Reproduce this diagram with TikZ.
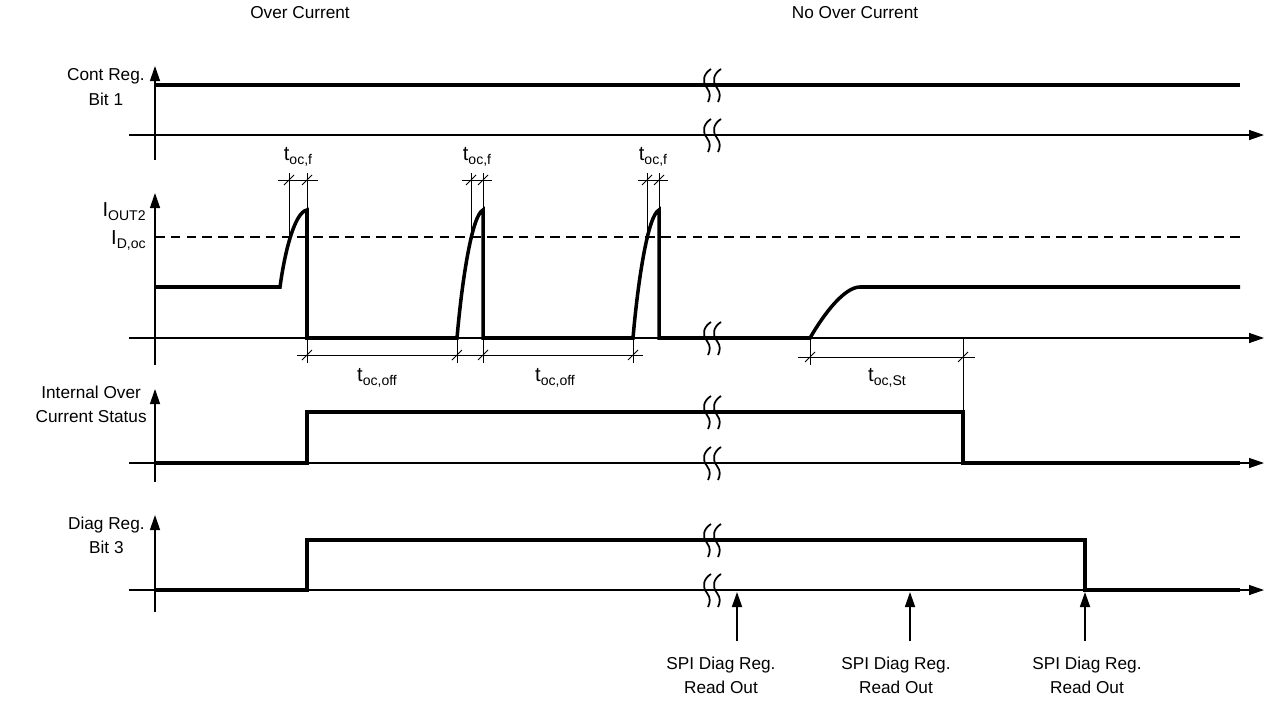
\documentclass[tikz,border=0pt]{standalone}
\usepackage{fontspec}
\setmainfont{Liberation Sans}
\usetikzlibrary{arrows.meta}
\newcommand{\sbl}[2]{{\fontsize{11.5}{13}\selectfont #1}\raisebox{-0.45ex}{\fontsize{8}{9}\selectfont #2}}
\begin{document}
\begin{tikzpicture}[x=0.02cm,y=-0.02cm,
  sig/.style={line width=2pt, line join=miter},
  axarr/.style={line width=0.75pt,-{Triangle[length=0.3cm,width=0.2cm]}},
  thinl/.style={line width=0.5pt},
  dashl/.style={line width=1.3pt, dash pattern=on 5.5pt off 3.5pt},
  roarr/.style={line width=1pt,-{Triangle[length=0.3cm,width=0.2cm]}},
  lbl/.style={font=\fontsize{9.8}{13.8}\selectfont, inner sep=0pt, align=center},
  brkline/.style={line width=1pt},
  brk/.pic={
    \draw[brkline] (-1,-16) .. controls (-9,-11) and (-10,-3) .. (-5,3) .. controls (-1,8) and (-2,13) .. (-4,17);
    \draw[brkline] (9,-16) .. controls (1,-11) and (0,-3) .. (5,3) .. controls (9,8) and (8,13) .. (6,17);
  },
  tick/.pic={\draw[thinl] (-5,5) -- (5,-5);}
]
\useasboundingbox (0,0) rectangle (1267,700);

% headings
\node[lbl] (hOC) at (300,13) {Over Current};
\node[lbl] (hNOC) at (855,13) {No Over Current};

% ---------- panel 1 ----------
\node[lbl, anchor=east] (l1) at (145,87) {Cont Reg.\\Bit 1};
\draw[axarr] (155,160) -- (155,66);
\draw[axarr] (129,135) -- (1264,135);
\draw[sig] (155,85) -- (1240,85);
\pic at (712,85) {brk};
\pic at (712,135) {brk};

% ---------- panel 2 ----------
\node[lbl, anchor=east] (l2) at (146,212) {\sbl{I}{OUT2}};
\node[lbl, anchor=east] (l2b) at (146,240) {\sbl{I}{D,oc}};
\draw[axarr] (155,365) -- (155,193);
\draw[axarr] (129,338) -- (1264,338);
\draw[dashl] (155,237) -- (1240,237);
\draw[sig] (155,287) -- (280,287)
  .. controls (285,250) and (295,212) .. (307,210) -- (307,338) -- (457,338)
  .. controls (462,280) and (472,215) .. (483,210) -- (483,338) -- (633,338)
  .. controls (638,280) and (648,215) .. (659,210) -- (659,338) -- (810,338)
  .. controls (825,312) and (845,287) .. (860,287) -- (1240,287);
\pic at (712,338) {brk};

% t_oc,f dimensions
\draw[thinl] (289,237) -- (289,173);
\draw[thinl] (307,210) -- (307,173);
\draw[thinl] (278,180) -- (318,180);
\pic at (289,180) {tick}; \pic at (307,180) {tick};
\node[lbl] (tf1) at (298,157) {\sbl{t}{oc,f}};

\draw[thinl] (471,237) -- (471,173);
\draw[thinl] (483,210) -- (483,173);
\draw[thinl] (462,180) -- (492,180);
\pic at (471,180) {tick}; \pic at (483,180) {tick};
\node[lbl] (tf2) at (477,157) {\sbl{t}{oc,f}};

\draw[thinl] (647,237) -- (647,173);
\draw[thinl] (659,210) -- (659,173);
\draw[thinl] (638,180) -- (668,180);
\pic at (647,180) {tick}; \pic at (659,180) {tick};
\node[lbl] (tf3) at (653,157) {\sbl{t}{oc,f}};

% t_oc,off dimensions
\foreach \xx in {307,457,483,633} {\draw[thinl] (\xx,339) -- (\xx,363); \pic at (\xx,355) {tick};}
\draw[thinl] (297,355) -- (643,355);
\node[lbl] (toff1) at (377,378) {\sbl{t}{oc,off}};
\node[lbl] (toff2) at (555,378) {\sbl{t}{oc,off}};

% t_oc,St dimension
\draw[thinl] (810,339) -- (810,365);
\draw[thinl] (963,339) -- (963,412);
\draw[thinl] (798,357) -- (975,357);
\pic at (810,357) {tick}; \pic at (963,357) {tick};
\node[lbl] (tst) at (887,378) {\sbl{t}{oc,St}};

% ---------- panel 3 ----------
\node[lbl, anchor=east] (l3) at (147,404) {Internal Over\\Current Status};
\draw[axarr] (155,482) -- (155,389);
\draw[axarr] (129,463) -- (1264,463);
\draw[sig] (155,463) -- (307,463) -- (307,412) -- (963,412) -- (963,463) -- (1240,463);
\pic at (712,412) {brk};
\pic at (712,463) {brk};

% ---------- panel 4 ----------
\node[lbl, anchor=east] (l4) at (145,535) {Diag Reg.\\Bit 3};
\draw[axarr] (155,612) -- (155,515);
\draw[axarr] (129,590) -- (1264,590);
\draw[sig] (155,590) -- (307,590) -- (307,540) -- (1085,540) -- (1085,590) -- (1240,590);
\pic at (712,540) {brk};
\pic at (712,590) {brk};

% SPI read-out arrows
\coordinate (r1) at (737,592);
\coordinate (r2) at (910,592);
\coordinate (r3) at (1085,592);
\coordinate (s1) at (737,641);
\coordinate (s2) at (910,641);
\coordinate (s3) at (1085,641);
\draw[roarr] (s1) -- (r1);
\draw[roarr] (s2) -- (r2);
\draw[roarr] (s3) -- (r3);
\node[lbl] (spi1) at (721,675) {SPI Diag Reg.\\Read Out};
\node[lbl] (spi2) at (896,675) {SPI Diag Reg.\\Read Out};
\node[lbl] (spi3) at (1087,675) {SPI Diag Reg.\\Read Out};
\end{tikzpicture}
\end{document}
